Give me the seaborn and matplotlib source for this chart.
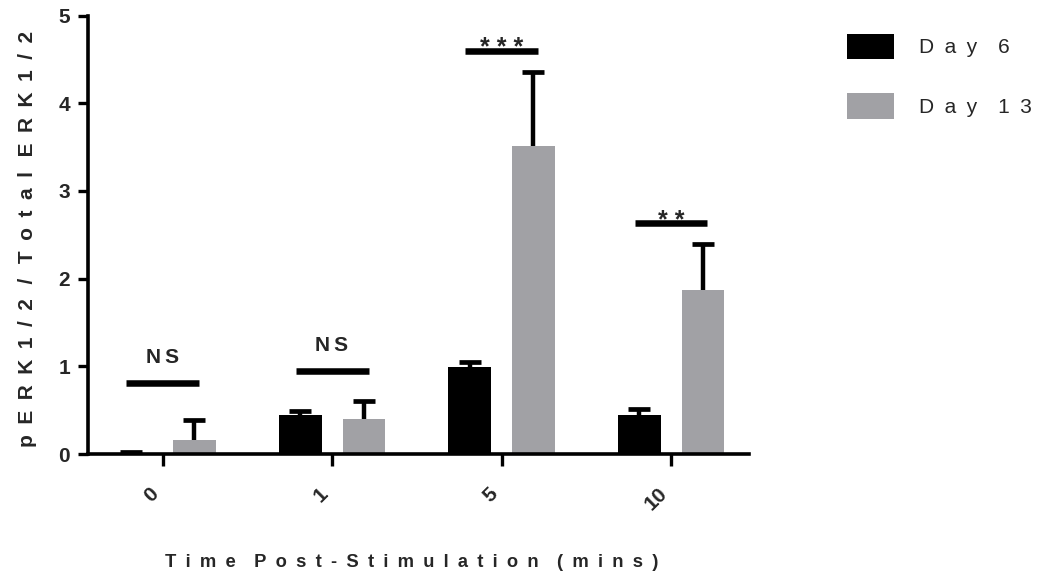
import numpy as np
import pandas as pd
import seaborn as sns
import matplotlib.pyplot as plt

# data
times = ["0", "1", "5", "10"]
days = ["Day 6", "Day 13"]
day6_mean = [0.01, 0.45, 0.99, 0.45]
day6_sem = [0.01, 0.04, 0.06, 0.06]
day13_mean = [0.16, 0.40, 3.51, 1.87]
day13_sem = [0.23, 0.20, 0.85, 0.53]
sig_y = [0.81, 0.95, 4.60, 2.63]
sig_text = ["NS", "NS", "***", "**"]
colors = ["#000000", "#a1a1a5"]


def spaced(s, sep="\u2002", word_sep="\u2003"):
    # Prism-style letter spacing
    return word_sep.join(sep.join(w) for w in s.split(" "))


sns.set_style("ticks")
plt.rcParams["font.family"] = ["Liberation Sans", "DejaVu Sans"]

df = pd.DataFrame({
    "time": times * 2,
    "day": [days[0]] * 4 + [days[1]] * 4,
    "value": day6_mean + day13_mean,
})

fig = plt.figure(figsize=(10.39, 5.83), dpi=100)
ax = fig.add_axes([88 / 1039, 1 - 454 / 583, (749 - 88) / 1039, (454 - 15.5) / 583])

sns.barplot(data=df, x="time", y="value", hue="day", order=times, hue_order=days,
            palette=colors, width=0.75, gap=0.33, errorbar=None, saturation=1,
            linewidth=0, ax=ax)

# upward-only error bars (hide the lower cap)
for bars, errs in zip(ax.containers, [day6_sem, day13_sem]):
    xs = [b.get_x() + b.get_width() / 2 for b in bars]
    hs = [b.get_height() for b in bars]
    _, caps, _ = ax.errorbar(xs, hs, yerr=[np.zeros(len(errs)), errs], fmt="none",
                             ecolor="black", elinewidth=3.2, capsize=8, capthick=3.4,
                             zorder=3)
    caps[0].set_visible(False)

# significance bars
for i, (y, t) in enumerate(zip(sig_y, sig_text)):
    ax.plot([i - 0.215, i + 0.215], [y, y], color="black", lw=4.7,
            solid_capstyle="butt", zorder=4)
    if t == "NS":
        ax.text(i, y + 0.23, "N\u2009S", ha="center", va="baseline",
                fontsize=15, fontweight="bold")
    else:
        ax.text(i, y - 0.05, " ".join(t), ha="center", va="baseline",
                fontsize=18, fontweight="bold", zorder=5)

ax.set_xlim(-0.44, 3.46)
ax.set_ylim(0, 5)
ax.set_yticks(range(6))
sns.despine(ax=ax)
for side in ["left", "bottom"]:
    ax.spines[side].set_linewidth(2.6)
    ax.spines[side].set_color("black")

ax.tick_params(axis="y", length=7, width=2.4, pad=6, labelsize=15, color="black")
ax.tick_params(axis="x", length=8.5, width=2.4, pad=13, labelsize=15, color="black")
for lab in ax.get_yticklabels():
    lab.set_fontweight("bold")
ax.set_xticks(range(len(times)))
ax.set_xticklabels(times, rotation=45, ha="right", fontweight="bold")

ax.set_ylabel(spaced("pERK1/2 / Total ERK1/2", word_sep="\u2002\u2009"),
              fontsize=15, fontweight="bold")
ax.yaxis.set_label_coords(-0.077, 0.49)
ax.set_xlabel(spaced("Time Post-Stimulation (mins)"), fontsize=13.2, fontweight="bold")
ax.xaxis.set_label_coords(0.49, -0.229)

handles, labels = ax.get_legend_handles_labels()
ax.legend(handles, [spaced(l) for l in labels], loc="upper left",
          bbox_to_anchor=(847 / 1039, 1 - 33.5 / 583), bbox_transform=fig.transFigure,
          frameon=False, fontsize=15, handlelength=2.25, handleheight=1.5,
          handletextpad=1.2, labelspacing=1.65, borderpad=0, borderaxespad=0)

fig.savefig("out.png", dpi=100)
